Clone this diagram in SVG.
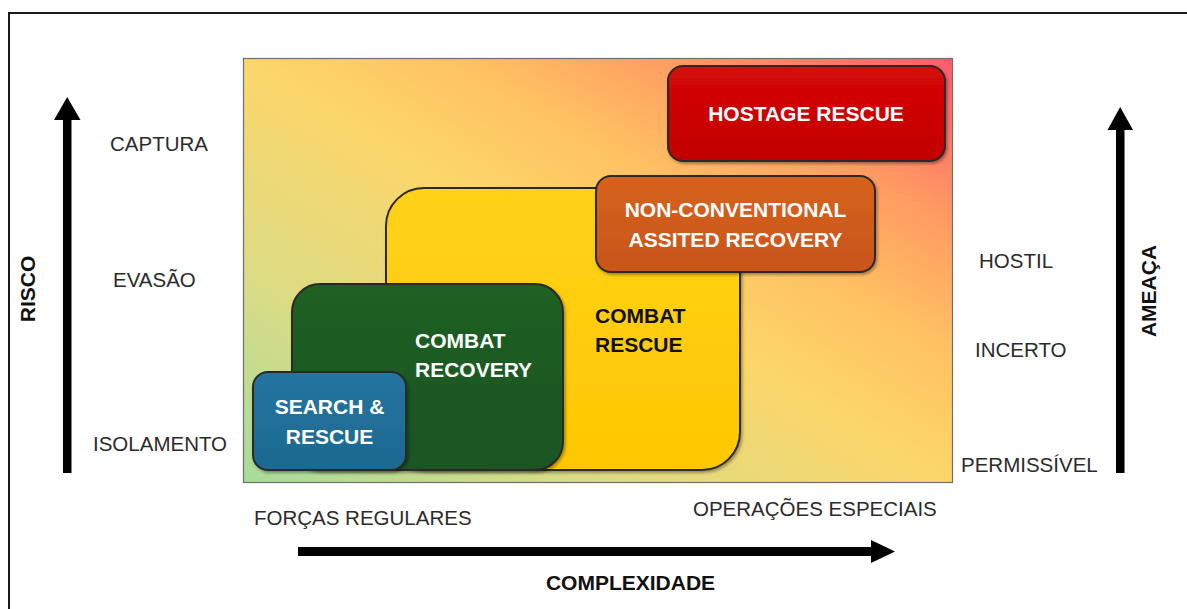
<svg xmlns="http://www.w3.org/2000/svg" width="1187" height="609" viewBox="0 0 1187 609">
  <defs>
    <linearGradient id="bg" x1="0" y1="1" x2="1" y2="0">
      <stop offset="0" stop-color="#a6dc9c"/>
      <stop offset="0.25" stop-color="#dcdc84"/>
      <stop offset="0.5" stop-color="#fcd66a"/>
      <stop offset="0.65" stop-color="#ffc262"/>
      <stop offset="0.8" stop-color="#ff9c62"/>
      <stop offset="1" stop-color="#ff5a6e"/>
    </linearGradient>
    <linearGradient id="gRed" x1="0" y1="0" x2="0" y2="1">
      <stop offset="0" stop-color="#d60808"/>
      <stop offset="1" stop-color="#c20000"/>
    </linearGradient>
    <linearGradient id="gOrange" x1="0" y1="0" x2="0" y2="1">
      <stop offset="0" stop-color="#d6621f"/>
      <stop offset="1" stop-color="#c95519"/>
    </linearGradient>
    <linearGradient id="gYellow" x1="0" y1="0" x2="0" y2="1">
      <stop offset="0" stop-color="#ffd21a"/>
      <stop offset="1" stop-color="#ffc800"/>
    </linearGradient>
    <linearGradient id="gGreen" x1="0" y1="0" x2="0" y2="1">
      <stop offset="0" stop-color="#205f24"/>
      <stop offset="1" stop-color="#1b5520"/>
    </linearGradient>
    <linearGradient id="gBlue" x1="0" y1="0" x2="0" y2="1">
      <stop offset="0" stop-color="#2474a0"/>
      <stop offset="1" stop-color="#1d6990"/>
    </linearGradient>
    <filter id="sh" x="-10%" y="-10%" width="130%" height="130%">
      <feDropShadow dx="1.5" dy="2" stdDeviation="1.5" flood-color="#000" flood-opacity="0.35"/>
    </filter>
  </defs>
  <style>
    .lbl { font-family: "Liberation Sans", Arial, sans-serif; font-size: 20.5px; fill: #2b2b2b; }
    .ax { font-family: "Liberation Sans", Arial, sans-serif; font-size: 21px; font-weight: bold; fill: #111; }
    .box { stroke: #2a2a2a; stroke-width: 2; filter: url(#sh); }
    .bt { font-family: "Liberation Sans", Arial, sans-serif; font-size: 21px; font-weight: bold; fill: #fff; }
    .btd { font-family: "Liberation Sans", Arial, sans-serif; font-size: 21px; font-weight: bold; fill: #111; }
    .arr { fill: #000; }
  </style>
  <rect width="1187" height="609" fill="#fff"/>
  <path d="M1187,13 H9 V609" fill="none" stroke="#1a1a1a" stroke-width="2"/>

  <g id="panel">
    <rect x="243.5" y="58.5" width="709" height="424" fill="url(#bg)" stroke="#6f6f6f" stroke-width="1.2"/>
  </g>

  <g id="combat-rescue">
    <rect class="box" x="386" y="188" width="354" height="282" rx="38" fill="url(#gYellow)"/>
    <text class="btd" x="595" y="323">COMBAT</text>
    <text class="btd" x="595" y="352">RESCUE</text>
  </g>
  <g id="combat-recovery">
    <rect class="box" x="292" y="284" width="271" height="186" rx="28" fill="url(#gGreen)"/>
    <text class="bt" x="415" y="348">COMBAT</text>
    <text class="bt" x="415" y="377">RECOVERY</text>
  </g>
  <g id="search-rescue">
    <rect class="box" x="253" y="372" width="153" height="98" rx="15" fill="url(#gBlue)"/>
    <text class="bt" x="329.5" y="414" text-anchor="middle">SEARCH &amp;</text>
    <text class="bt" x="329.5" y="444" text-anchor="middle">RESCUE</text>
  </g>
  <g id="non-conventional">
    <rect class="box" x="596" y="176" width="279" height="96" rx="15" fill="url(#gOrange)"/>
    <text class="bt" x="735.5" y="217" text-anchor="middle">NON-CONVENTIONAL</text>
    <text class="bt" x="735.5" y="247" text-anchor="middle">ASSITED RECOVERY</text>
  </g>
  <g id="hostage-rescue">
    <rect class="box" x="668" y="66" width="277" height="95" rx="15" fill="url(#gRed)"/>
    <text class="bt" x="806" y="121" text-anchor="middle">HOSTAGE RESCUE</text>
  </g>

  <g id="connectors">
    <rect class="arr" x="63" y="117" width="8.5" height="356"/>
    <polygon class="arr" points="54,120 67.2,97 80.5,120"/>
    <rect class="arr" x="1116" y="128" width="8.5" height="345"/>
    <polygon class="arr" points="1107.5,130 1120.2,107 1133,130"/>
    <rect class="arr" x="298" y="547" width="575" height="9"/>
    <polygon class="arr" points="871,540 895,551.5 871,563"/>
  </g>

  <g id="risk-axis">
    <text class="ax" transform="translate(35,289) rotate(-90)" text-anchor="middle">RISCO</text>
    <text class="lbl" x="110" y="151">CAPTURA</text>
    <text class="lbl" x="113" y="287">EVASÃO</text>
    <text class="lbl" x="93" y="451">ISOLAMENTO</text>
  </g>
  <g id="threat-axis">
    <text class="ax" transform="translate(1156,291) rotate(-90)" text-anchor="middle">AMEAÇA</text>
    <text class="lbl" x="979" y="268">HOSTIL</text>
    <text class="lbl" x="975" y="357">INCERTO</text>
    <text class="lbl" x="961" y="472">PERMISSÍVEL</text>
  </g>
  <g id="complexity-axis">
    <text class="lbl" x="254" y="525">FORÇAS REGULARES</text>
    <text class="lbl" x="693" y="516">OPERAÇÕES ESPECIAIS</text>
    <text class="ax" x="630.5" y="590" text-anchor="middle">COMPLEXIDADE</text>
  </g>
</svg>
